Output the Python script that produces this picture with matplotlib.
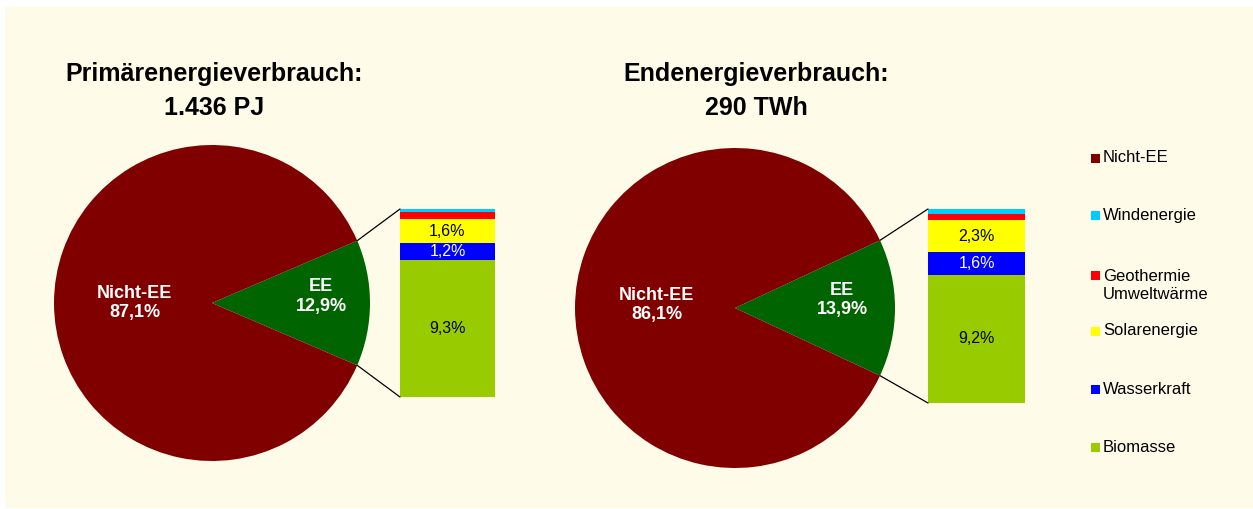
import matplotlib
matplotlib.use('Agg')
import matplotlib.pyplot as plt
from matplotlib.patches import Rectangle, ConnectionPatch
import numpy as np

plt.rcParams['font.family'] = ['Liberation Sans', 'DejaVu Sans']

W, H = 1253, 509
BG = '#fffbe9'

# data
titles = ['Primärenergieverbrauch:\n1.436 PJ', 'Endenergieverbrauch:\n290 TWh']
pie_labels = ['Nicht-EE', 'EE']
pie_values = [[87.1, 12.9], [86.1, 13.9]]
ee_names = ['Biomasse', 'Wasserkraft', 'Solarenergie', 'Geothermie\nUmweltwärme', 'Windenergie']
ee_values = [[9.3, 1.2, 1.6, 0.5, 0.2], [9.2, 1.6, 2.3, 0.45, 0.35]]
ee_labels = [['9,3%', '1,2%', '1,6%', '', ''], ['9,2%', '1,6%', '2,3%', '', '']]
legend_names = ['Nicht-EE', 'Windenergie', 'Geothermie\nUmweltwärme', 'Solarenergie', 'Wasserkraft', 'Biomasse']

colors = {
    'Nicht-EE': '#800000', 'EE': '#006400',
    'Biomasse': '#99cc00', 'Wasserkraft': '#0000ff', 'Solarenergie': '#ffff00',
    'Geothermie\nUmweltwärme': '#ff0000', 'Windenergie': '#00ccff',
}
label_colors = {'Biomasse': 'black', 'Wasserkraft': 'white', 'Solarenergie': 'black'}

# layout in pixels
pie_boxes = [(54, 145, 370, 461), (575, 148, 895, 468)]
bar_boxes = [(400, 209, 495, 397), (928, 209, 1025, 403)]
title_x = [214, 756]
nicht_pos = [(-0.49, 0.0), (-0.49, 0.02)]
ee_pos = [(0.69, 0.04), (0.67, 0.05)]


def px_rect(x0, y0, x1, y1):
    return [x0 / W, 1 - y1 / H, (x1 - x0) / W, (y1 - y0) / H]


fig = plt.figure(figsize=(W / 100, H / 100), dpi=100, facecolor='white')
fig.patches.append(Rectangle((5 / W, 1 - 508 / H), 1 - 5 / W, (508 - 7) / H,
                             transform=fig.transFigure, facecolor=BG, edgecolor='none', zorder=-10))

for i in range(2):
    pax = fig.add_axes(px_rect(*pie_boxes[i]))
    vals = pie_values[i]
    ee_frac = vals[1] / sum(vals)
    start = -ee_frac * 360 / 2
    pax.pie([vals[1], vals[0]], colors=[colors['EE'], colors['Nicht-EE']],
            startangle=start, radius=1, wedgeprops=dict(linewidth=0))
    pax.set_xlim(-1, 1)
    pax.set_ylim(-1, 1)
    pax.set_axis_off()

    pax.text(*nicht_pos[i], f"Nicht-EE\n{vals[0]:.1f}%".replace('.', ','), color='white',
             fontsize=13, fontweight='bold', ha='center', va='center', linespacing=1.2)
    pax.text(*ee_pos[i], f"EE\n{vals[1]:.1f}%".replace('.', ','), color='white',
             fontsize=13, fontweight='bold', ha='center', va='center', linespacing=1.2)

    bax = fig.add_axes(px_rect(*bar_boxes[i]))
    seg = ee_values[i]
    bottoms = np.concatenate([[0], np.cumsum(seg)[:-1]])
    for name, v, b, lab in zip(ee_names, seg, bottoms, ee_labels[i]):
        bax.bar(0, v, bottom=b, width=1, color=colors[name], linewidth=0)
        if lab:
            bax.text(0, b + v / 2, lab, ha='center', va='center', fontsize=11.5,
                     color=label_colors[name])
    total = sum(seg)
    bax.set_xlim(-0.5, 0.5)
    bax.set_ylim(0, total)
    bax.set_axis_off()

    # connector lines from the EE wedge to the stacked bar
    half = np.deg2rad(ee_frac * 360 / 2)
    for sgn, ytarget in [(1, total), (-1, 0)]:
        con = ConnectionPatch(xyA=(np.cos(half), sgn * np.sin(half)), coordsA=pax.transData,
                              xyB=(-0.5, ytarget), coordsB=bax.transData,
                              color='black', linewidth=0.9)
        fig.add_artist(con)

    fig.text(title_x[i] / W, 1 - 91 / H, titles[i], ha='center', va='center',
             fontsize=18, fontweight='bold', linespacing=1.55)

# legend
legend_y = [158, 216, 275, 331, 389, 447]
for name, y in zip(legend_names, legend_y):
    fig.patches.append(Rectangle((1091 / W, 1 - (y + 4.5) / H), 9 / W, 9 / H,
                                 transform=fig.transFigure, facecolor=colors[name],
                                 edgecolor='none'))
    if '\n' in name:
        fig.text(1103 / W, 1 - (y - 6) / H, name, ha='left', va='top', fontsize=12,
                 linespacing=1.25)
    else:
        fig.text(1103 / W, 1 - y / H, name, ha='left', va='center', fontsize=12)

fig.savefig('out.png', dpi=100, facecolor='white')
